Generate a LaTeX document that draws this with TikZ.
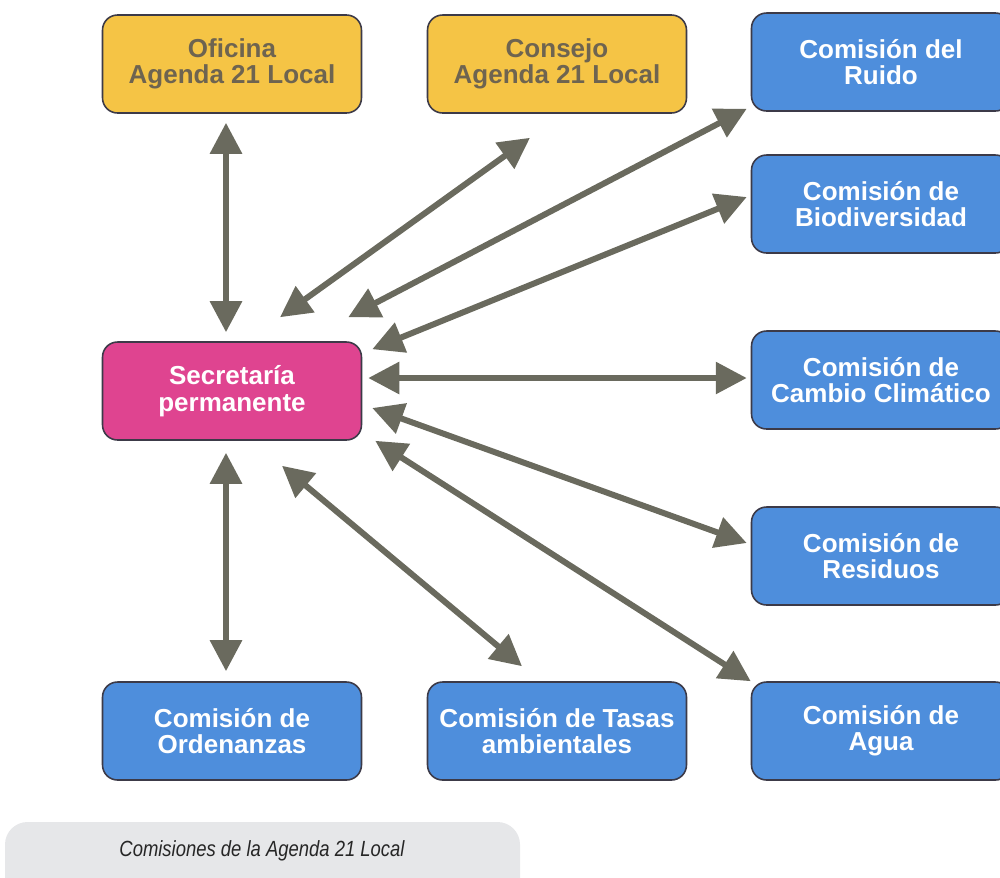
\documentclass[tikz,border=0pt]{standalone}
\usepackage{fontspec}
\setmainfont{Liberation Sans}
\newfontfamily\capfont[FakeStretch=0.84]{Liberation Sans}
\usetikzlibrary{arrows.meta}
\definecolor{amarillo}{HTML}{F5C445}
\definecolor{rosa}{HTML}{DF4490}
\definecolor{azul}{HTML}{4E8EDC}
\definecolor{flecha}{HTML}{6A6A5E}
\definecolor{borde}{HTML}{3C3A48}
\definecolor{ocre}{HTML}{6E6450}
\definecolor{gris}{HTML}{E6E7E9}
\begin{document}
\begin{tikzpicture}[x=0.02cm, y=-0.02cm,
    caja/.style={draw=borde, line width=0.9pt, rounded corners=0.3cm,
      minimum width=5.18cm, minimum height=1.96cm, align=center,
      font=\fontsize{14.8}{15}\selectfont\bfseries},
    oficina/.style={caja, fill=amarillo, text=ocre},
    comision/.style={caja, fill=azul, text=white},
    secretaria/.style={caja, fill=rosa, text=white},
    flechas/.style={draw=flecha, line width=0.12cm,
      {Triangle[length=0.62cm, width=0.62cm]}-{Triangle[length=0.62cm, width=0.62cm]}}]
    \useasboundingbox (0,0) rectangle (1000,877);

    \node[oficina] (ofi) at (232,64) {Oficina\\Agenda 21 Local};
    \node[oficina] (con) at (557,64) {Consejo\\Agenda 21 Local};
    \node[secretaria] (sec) at (232,391) {Secretaría\\permanente};
    \node[comision] (rui) at (881,62) {Comisión del\\Ruido};
    \node[comision] (bio) at (881,204) {Comisión de\\Biodiversidad};
    \node[comision] (cam) at (881,380) {Comisión de\\Cambio Climático};
    \node[comision] (res) at (881,556) {Comisión de\\Residuos};
    \node[comision] (agu) at (881,731) {Comisión de\\Agua};
    \node[comision] (ord) at (232,731) {Comisión de\\Ordenanzas};
    \node[comision] (tas) at (557,731) {Comisión de Tasas\\ambientales};

    \draw[flechas] ([shift={(-6,9)}]ofi.south) -- ([shift={(-6,-9)}]sec.north);
    \draw[flechas] ([shift={(48,-24)}]sec.north) -- ([shift={(-27,24)}]con.south);
    \draw[flechas] ([shift={(-14,-24)}]sec.north east) -- ([shift={(-4,-3)}]rui.south west);
    \draw[flechas] ([shift={(10,8)}]sec.north east) -- ([shift={(-4,-7)}]bio.west);
    \draw[flechas] ([shift={(6,-13)}]sec.east) -- ([shift={(-4,-2)}]cam.west);
    \draw[flechas] ([shift={(10,17)}]sec.east) -- ([shift={(-4,-13)}]res.west);
    \draw[flechas] ([shift={(13,0)}]sec.south east) -- ([shift={(0,0)}]agu.north west);
    \draw[flechas] ([shift={(50,25)}]sec.south) -- ([shift={(-35,-15)}]tas.north);
    \draw[flechas] ([shift={(-6,12)}]sec.south) -- ([shift={(-6,-10)}]ord.north);

    \fill[gris, rounded corners=0.45cm] (5,822) rectangle (520,905);
    \node[font=\capfont\fontsize{12.5}{14}\selectfont\itshape, text=black!85] (cap) at (262,851) {Comisiones de la Agenda 21 Local};
\end{tikzpicture}
\end{document}
